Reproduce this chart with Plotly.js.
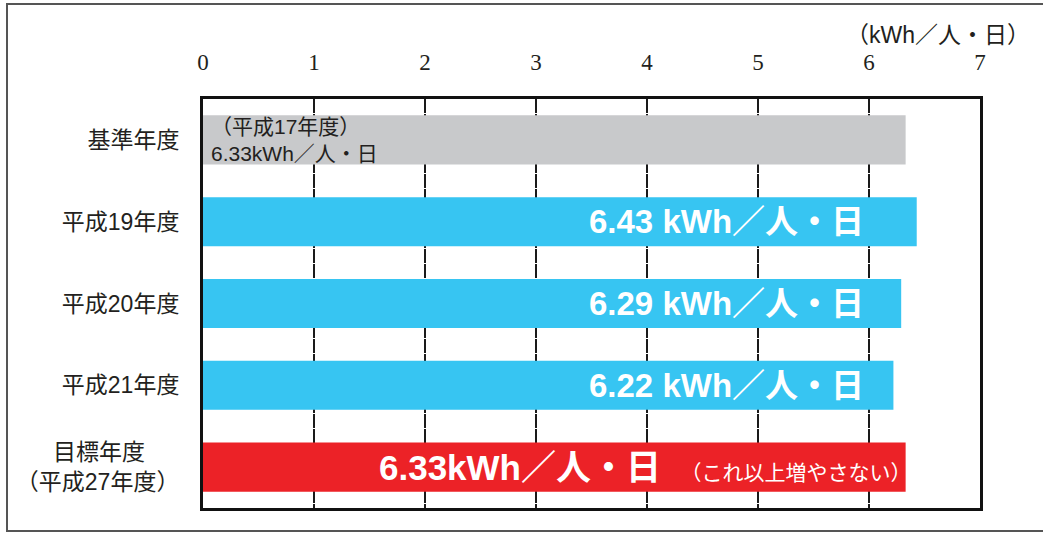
<!DOCTYPE html>
<html>
<head>
<meta charset="utf-8">
<script src="https://cdn.plot.ly/plotly-3.0.1.min.js"></script>
<style>
html,body{margin:0;padding:0;background:#fff;}
#chart{width:1043px;height:534px;}
</style>
</head>
<body>
<div id="chart"></div>
<script>
// ---- data ----
const categories = ['基準年度', '平成19年度', '平成20年度', '平成21年度', '目標年度\u3000\u2002<br>（平成27年度）'];
const values = [6.33, 6.43, 6.29, 6.22, 6.33];
const barColors = ['#c8c9cb', '#37c5f2', '#37c5f2', '#37c5f2', '#ec2227'];
const xTicks = [0, 1, 2, 3, 4, 5, 6, 7];
const unitLabel = '（kWh／人・日）';
const baseNote = '（平成17年度）<br>' + values[0].toFixed(2) + 'kWh／人・日';
const cyanLabels = [
  values[1].toFixed(2) + ' kWh／人・日',
  values[2].toFixed(2) + ' kWh／人・日',
  values[3].toFixed(2) + ' kWh／人・日'
];
const targetLabel = values[4].toFixed(2) + 'kWh／人・日';
const targetNote = '（これ以上増やさない）';

const jpSans = 'Liberation Sans, Noto Sans CJK JP, sans-serif';

const trace = {
  type: 'bar',
  orientation: 'h',
  y: categories,
  x: values,
  width: 0.6,
  marker: { color: barColors, line: { width: 0 } },
  hoverinfo: 'none',
  showlegend: false
};

const annotations = [
  {
    xref: 'x', yref: 'y', x: 0, y: categories[0],
    xanchor: 'left', yanchor: 'middle', xshift: 6,
    align: 'left', showarrow: false,
    text: baseNote,
    font: { family: jpSans, size: 21, color: '#231f20' }
  },
  {
    xref: 'paper', yref: 'paper', x: (1032 - 203) / 777, y: (508 - 35) / 409,
    xanchor: 'right', yanchor: 'middle', showarrow: false,
    text: unitLabel,
    font: { family: jpSans, size: 23, color: '#231f20' }
  },
  {
    xref: 'x', yref: 'y', x: 6.33, y: categories[4],
    xanchor: 'right', yanchor: 'middle', showarrow: false, xshift: 7,
    text: '<b>' + targetLabel + '</b>  <span style="font-size:21px">' + targetNote + '</span>',
    font: { family: jpSans, size: 35, color: '#ffffff' }
  }
];
for (let i = 0; i < cyanLabels.length; i++) {
  annotations.push({
    xref: 'x', yref: 'y', x: 5.97, y: categories[i + 1],
    xanchor: 'right', yanchor: 'middle', showarrow: false,
    text: '<b>' + cyanLabels[i] + '</b>',
    font: { family: jpSans, size: 33, color: '#ffffff' }
  });
}

const layout = {
  width: 1043, height: 534,
  margin: { l: 203, r: 63, t: 99, b: 26 },
  paper_bgcolor: '#ffffff',
  plot_bgcolor: '#ffffff',
  bargap: 0.4,
  xaxis: {
    range: [0, 7],
    side: 'top',
    tickvals: xTicks,
    ticks: '',
    ticklabelstandoff: 17,
    tickfont: { family: 'Liberation Serif, DejaVu Serif, serif', size: 23, color: '#231f20' },
    showgrid: true,
    gridcolor: '#1a1a1a',
    gridwidth: 2.5,
    griddash: '14px,1px',
    zeroline: false,
    showline: true,
    linecolor: '#111111',
    linewidth: 3,
    mirror: true,
    fixedrange: true
  },
  yaxis: {
    type: 'category',
    range: [4.5, -0.5],
    ticks: '',
    ticklabelstandoff: 16,
    tickfont: { family: jpSans, size: 23, color: '#231f20' },
    showgrid: false,
    zeroline: false,
    showline: true,
    linecolor: '#111111',
    linewidth: 3,
    mirror: true,
    fixedrange: true
  },
  shapes: [
    {
      type: 'rect', xref: 'paper', yref: 'paper',
      x0: (7 - 203) / 777, x1: (1046 - 203) / 777,
      y0: (508 - 531) / 409, y1: (508 - 4) / 409,
      line: { color: '#555555', width: 2 },
      fillcolor: 'rgba(0,0,0,0)',
      layer: 'below'
    }
  ],
  annotations: annotations
};

Plotly.newPlot('chart', [trace], layout, { displayModeBar: false, staticPlot: true });
</script>
</body>
</html>
